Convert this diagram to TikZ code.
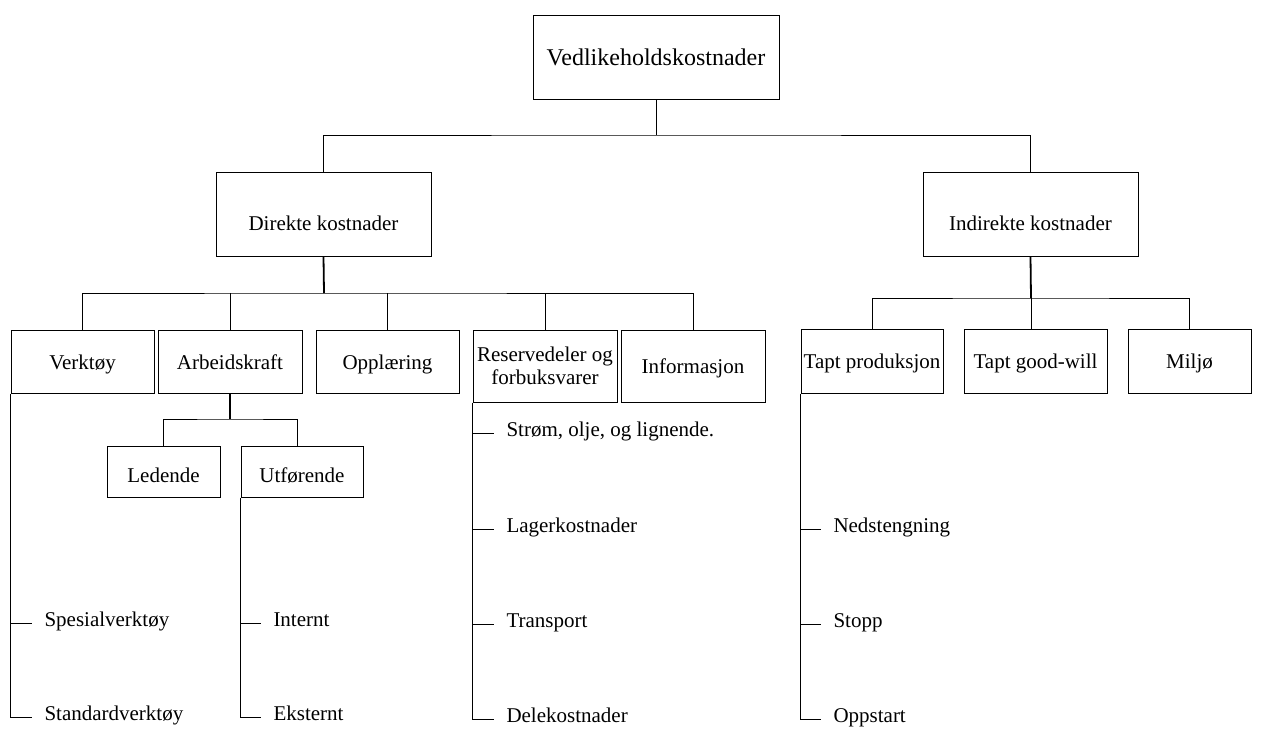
\documentclass[tikz,border=0pt]{standalone}
\usepackage{fontspec}
\setmainfont{Liberation Serif}
\begin{document}
\begin{tikzpicture}[x=1pt,y=-1pt,
  line width=1pt,
  frame/.style={draw, line width=1pt, rectangle, inner sep=0pt,
    font=\fontsize{21}{23}\selectfont},
  box/.style={frame, text height=18pt, text depth=3pt},
  lowbox/.style={frame, text height=36pt, text depth=4pt},
  subbox/.style={frame, text height=24pt, text depth=2pt},
  twoline/.style={frame, align=center},
  leaf/.style={anchor=west, inner sep=0pt, text height=0.75em, text depth=0.1em,
    font=\fontsize{21}{23}\selectfont},
  stem/.style={line width=1.8pt},
  tick/.style={shorten >=12pt}]
\useasboundingbox (0,0) rectangle (1261,729);

% top level
\node[frame, text height=20pt, text depth=4pt, minimum width=246pt, minimum height=84pt,
  font=\fontsize{24}{26}\selectfont] (top) at (656,57) {Vedlikeholdskostnader};

% second level
\node[lowbox, minimum width=215pt, minimum height=84pt] (dir) at (323.5,214) {Direkte kostnader};
\node[lowbox, minimum width=215pt, minimum height=84pt] (ind) at (1030.5,214) {Indirekte kostnader};

% direct cost categories
\node[box, minimum width=143pt, minimum height=63pt] (vk) at (82.5,361.5) {Verktøy};
\node[box, minimum width=144pt, minimum height=63pt] (ak) at (230,361.5) {Arbeidskraft};
\node[box, minimum width=143pt, minimum height=63pt] (op) at (387.5,361.5) {Opplæring};
\node[twoline, minimum width=144pt, minimum height=72pt] (rs) at (545,366) {Reservedeler og\\forbuksvarer};
\node[box, minimum width=144pt, minimum height=72pt] (inf) at (693,366) {Informasjon};

% indirect cost categories
\node[box, minimum width=142pt, minimum height=64pt] (tp) at (872,361) {Tapt produksjon};
\node[box, minimum width=143pt, minimum height=64pt] (tg) at (1035.5,361) {Tapt good-will};
\node[box, minimum width=123pt, minimum height=64pt] (mi) at (1189.5,361) {Miljø};

% labour subdivision
\node[subbox, minimum width=113pt, minimum height=51pt] (le) at (163.5,471.5) {Ledende};
\node[subbox, minimum width=122pt, minimum height=51pt] (ut) at (302,471.5) {Utførende};

% bus junctions
\coordinate (busT) at (656,135);
\coordinate (busD) at (324,293);
\coordinate (busI) at (1031,298);
\coordinate (busA) at (230,419);
\coordinate (busAr) at (297,419);

% connectors between levels
\draw (top.south) -- (busT);
\draw (dir.north) |- (busT) -| (ind.north);
\draw[stem] (dir.south) -- (busD);
\draw (vk.north) |- (busD) -| (inf.north);
\draw (ak.north) -- (ak.north |- busD);
\draw (op.north) -- (op.north |- busD);
\draw (rs.north) -- (rs.north |- busD);
\draw[stem] (ind.south) -- (busI);
\draw (tp.north) |- (busI) -| (mi.north);
\draw (busI) -- (busI |- tg.north);
\draw[stem] (ak.south) -- (busA);
\draw (le.north) |- (busA) -- (busAr) -- (busAr |- ut.north);

% leaf items
\node[leaf] (sv) at (44,623) {Spesialverktøy};
\node[leaf] (sd) at (44,717) {Standardverktøy};
\node[leaf] (in) at (273,623) {Internt};
\node[leaf] (ek) at (273,717) {Eksternt};
\node[leaf] (so) at (506,433) {Strøm, olje, og lignende.};
\node[leaf] (lk) at (506,529) {Lagerkostnader};
\node[leaf] (tr) at (506,624) {Transport};
\node[leaf] (dk) at (506,719) {Delekostnader};
\node[leaf] (ns) at (833,529) {Nedstengning};
\node[leaf] (st) at (833,624) {Stopp};
\node[leaf] (os) at (833,719) {Oppstart};

% leaf branches
\draw[tick] (vk.south west) |- (sd.west);
\draw[tick] (vk.south west |- sv.west) -- (sv.west);
\draw[tick] (ut.south west) |- (ek.west);
\draw[tick] (ut.south west |- in.west) -- (in.west);
\draw[tick] (rs.south west) |- (dk.west);
\draw[tick] (rs.south west |- so.west) -- (so.west);
\draw[tick] (rs.south west |- lk.west) -- (lk.west);
\draw[tick] (rs.south west |- tr.west) -- (tr.west);
\draw[tick] (tp.south west) |- (os.west);
\draw[tick] (tp.south west |- ns.west) -- (ns.west);
\draw[tick] (tp.south west |- st.west) -- (st.west);
\end{tikzpicture}
\end{document}
